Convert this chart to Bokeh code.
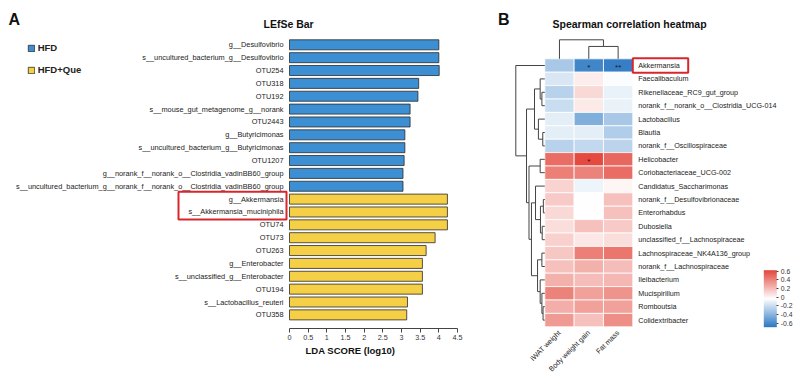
import numpy as np
from bokeh.plotting import figure
from bokeh.models import (ColumnDataSource, Range1d, FixedTicker, NumeralTickFormatter,
                          Legend, LegendItem, Label, LinearColorMapper, ColorBar, AllLabels)
from bokeh.layouts import row
from bokeh.core.properties import value
from bokeh.embed import file_html
from bokeh.resources import INLINE

FONT = "Liberation Sans"

# ---------------- Panel A data (LEfSe) ----------------
lefse_features = [
    "g__Desulfovibrio",
    "s__uncultured_bacterium_g__Desulfovibrio",
    "OTU254",
    "OTU318",
    "OTU192",
    "s__mouse_gut_metagenome_g__norank",
    "OTU2443",
    "g__Butyricimonas",
    "s__uncultured_bacterium_g__Butyricimonas",
    "OTU1207",
    "g__norank_f__norank_o__Clostridia_vadinBB60_group",
    "s__uncultured_bacterium_g__norank_f__norank_o__Clostridia_vadinBB60_group",
    "g__Akkermansia",
    "s__Akkermansia_muciniphila",
    "OTU74",
    "OTU73",
    "OTU263",
    "g__Enterobacter",
    "s__unclassified_g__Enterobacter",
    "OTU194",
    "s__Lactobacillus_reuteri",
    "OTU358",
]
lefse_lda = [4.00, 4.00, 4.01, 3.46, 3.44, 3.23, 3.23, 3.09, 3.09, 3.07, 3.04, 3.04,
             4.23, 4.23, 4.23, 3.90, 3.66, 3.56, 3.56, 3.56, 3.16, 3.14]
lefse_group = ["HFD", "HFD", "HFD", "HFD", "HFD", "HFD", "HFD", "HFD", "HFD", "HFD", "HFD", "HFD",
               "HFD+Que", "HFD+Que", "HFD+Que", "HFD+Que", "HFD+Que", "HFD+Que", "HFD+Que",
               "HFD+Que", "HFD+Que", "HFD+Que"]
group_names = ["HFD", "HFD+Que"]
group_colors = ["#3b8fd2", "#f5cf45"]
lda_ticks = [0, 0.5, 1, 1.5, 2, 2.5, 3, 3.5, 4, 4.5]
lefse_highlight = ["g__Akkermansia", "s__Akkermansia_muciniphila"]

# ---------------- Panel B data (Spearman heatmap) ----------------
hm_rows = [
    "Akkermansia", "Faecalibaculum", "Rikenellaceae_RC9_gut_group",
    "norank_f__norank_o__Clostridia_UCG-014", "Lactobacillus", "Blautia",
    "norank_f__Oscillospiraceae", "Helicobacter", "Coriobacteriaceae_UCG-002",
    "Candidatus_Saccharimonas", "norank_f__Desulfovibrionaceae", "Enterorhabdus",
    "Dubosiella", "unclassified_f__Lachnospiraceae", "Lachnospiraceae_NK4A136_group",
    "norank_f__Lachnospiraceae", "Ileibacterium", "Mucispirillum", "Romboutsia",
    "Colidextribacter",
]
hm_cols = ["iWAT weight", "Body weight gain", "Fat mass"]
rho_iwat = [-0.30, -0.15, -0.25, -0.20, -0.12, -0.12, -0.25, 0.48, 0.42, 0.12,
            0.15, 0.10, 0.08, 0.13, 0.16, 0.18, 0.24, 0.40, 0.25, 0.32]
rho_bwg = [-0.62, 0.03, 0.10, 0.04, -0.42, -0.12, -0.22, 0.60, 0.40, -0.09,
           -0.03, -0.03, 0.18, 0.05, 0.42, 0.24, 0.20, 0.30, 0.30, 0.18]
rho_fat = [-0.65, -0.05, -0.10, -0.10, -0.30, -0.28, -0.24, 0.50, 0.48, 0.00,
           0.18, 0.18, 0.15, 0.08, 0.45, 0.20, 0.22, 0.34, 0.30, 0.36]
sig_iwat = ["", "", "", "", "", "", "", "", "", "", "", "", "", "", "", "", "", "", "", ""]
sig_bwg = ["*", "", "", "", "", "", "", "*", "", "", "", "", "", "", "", "", "", "", "", ""]
sig_fat = ["**", "", "", "", "", "", "", "", "", "", "", "", "", "", "", "", "", "", "", ""]
# hierarchical clustering merges: (child_a, child_b, height); ids >= n refer to earlier merges
row_merges = [
    (2, 3, 0.10), (1, 20, 0.16), (5, 6, 0.07), (4, 22, 0.22), (21, 23, 0.355),
    (7, 8, 0.16), (10, 11, 0.05), (12, 13, 0.09), (26, 27, 0.15), (9, 28, 0.32),
    (14, 15, 0.10), (18, 19, 0.06), (17, 31, 0.10), (16, 32, 0.16), (30, 33, 0.25),
    (29, 34, 0.46), (25, 35, 0.545), (24, 36, 0.63), (0, 37, 1.00),
]
col_merges = [(1, 2, 0.65), (0, 3, 1.00)]
cbar_ticks = [-0.6, -0.4, -0.2, 0, 0.2, 0.4, 0.6]
cmap_low, cmap_high = -0.69, 0.62
hm_highlight = "Akkermansia"

# ---------------- geometry (page pixels; page origin is the canvas origin) ----------------
H = 378
A_W = 497
B_W = 302
A_ZERO_PX, A_UNIT_PX = 289.0, 168.0 / 4.5
A_ROW0_PX, A_ROW_PX = 44.3, 12.86
A_AXIS_PX = 328.0


def ax(px):
    return (px - A_ZERO_PX) / A_UNIT_PX


def ay(py):
    return (py - A_ROW0_PX) / A_ROW_PX


B_LEFT = A_W
B_COL_PX = 29.33
B_COL0_PX = 544.3 + B_COL_PX / 2
B_ROW0_PX, B_ROW_PX = 65.0, 13.4


def bx(px):
    return (px - B_COL0_PX) / B_COL_PX


def by(py):
    return (py - B_ROW0_PX) / B_ROW_PX


# ================= Panel A =================
pa = figure(width=A_W, height=H, output_backend="svg", toolbar_location=None,
            x_range=Range1d(ax(0), ax(A_W)), y_range=Range1d(ay(H), ay(0)),
            y_axis_location=None, min_border=0)
pa.outline_line_color = None
pa.grid.visible = False

legend_items = []
for g, c in zip(group_names, group_colors):
    idx = [i for i, gg in enumerate(lefse_group) if gg == g]
    src = ColumnDataSource(dict(y=idx, v=[lefse_lda[i] for i in idx]))
    r = pa.hbar(y="y", left=0, right="v", height=0.78, source=src,
                fill_color=c, line_color="#2b2b2b", line_width=0.8)
    legend_items.append(LegendItem(label=g, renderers=[r]))

pa.text(x=ax(283), y=list(range(len(lefse_features))), text=lefse_features,
        text_align="right", text_baseline="middle", text_font=value(FONT),
        text_font_size="7.35px", text_color="#222222")

hi = [lefse_features.index(f) for f in lefse_highlight]
pa.quad(left=[ax(178)], right=[ax(286)], top=[min(hi) - 0.58], bottom=[max(hi) + 0.58],
        fill_color=None, line_color="#d7262c", line_width=2)

xa = pa.xaxis[0]
xa.fixed_location = ay(A_AXIS_PX)
xa.bounds = (0, 4.5)
xa.ticker = FixedTicker(ticks=lda_ticks)
xa.formatter = NumeralTickFormatter(format="0[.]0")
xa.major_tick_out = 4
xa.major_tick_in = 0
xa.minor_tick_line_color = None
xa.axis_line_color = "#444444"
xa.major_tick_line_color = "#444444"
xa.major_label_text_font_size = "7.2px"
xa.major_label_text_font = FONT
xa.major_label_text_color = "#333333"
xa.major_label_standoff = 2

pa.add_layout(Label(x=ax(305), y=ay(350), text="LDA SCORE (log10)", text_font_size="9.5px",
                    text_font_style="bold", text_font=FONT, text_baseline="middle",
                    text_color="#111111"))

legend = Legend(items=legend_items,
                location=(26.7, H - 75.3), orientation="vertical",
                glyph_width=8, glyph_height=8, label_height=8, label_width=10,
                spacing=11, padding=0, margin=0, label_standoff=3,
                border_line_color=None, background_fill_alpha=0,
                label_text_font_size="9.5px", label_text_font_style="bold",
                label_text_font=FONT, label_text_color="#222222")
pa.add_layout(legend)

pa.add_layout(Label(x=ax(8), y=ay(18.5), text="A", text_font_size="16px",
                    text_font_style="bold", text_font=FONT, text_baseline="alphabetic",
                    text_color="#111111"))
pa.add_layout(Label(x=ax(263), y=ay(23), text="LEfSe Bar", text_font_size="10.5px",
                    text_font_style="bold", text_font=FONT, text_baseline="middle",
                    text_color="#111111"))

# ================= Panel B =================
pb = figure(width=B_W, height=H, output_backend="svg", toolbar_location=None,
            x_range=Range1d(bx(B_LEFT), bx(B_LEFT + B_W)), y_range=Range1d(by(H), by(0)),
            x_axis_location=None, y_axis_location=None, min_border=0)
pb.outline_line_color = None
pb.grid.visible = False


def lerp_palette(stops, n=256):
    rgb = [tuple(int(s[i:i + 2], 16) for i in (1, 3, 5)) for s in stops]
    out = []
    for t in np.linspace(0, 1, n):
        seg = min(int(t * (len(rgb) - 1)), len(rgb) - 2)
        f = t * (len(rgb) - 1) - seg
        c = [round(rgb[seg][k] + (rgb[seg + 1][k] - rgb[seg][k]) * f) for k in range(3)]
        out.append("#%02x%02x%02x" % tuple(c))
    return out


palette = lerp_palette(["#2a78c3", "#ffffff", "#e3463a"])
mapper = LinearColorMapper(palette=palette, low=cmap_low, high=cmap_high)

cols_vals = [rho_iwat, rho_bwg, rho_fat]
cols_sig = [sig_iwat, sig_bwg, sig_fat]
cx, cy, cv, sx, sy, st = [], [], [], [], [], []
for j, (vals, sigs) in enumerate(zip(cols_vals, cols_sig)):
    for i, (v, s) in enumerate(zip(vals, sigs)):
        cx.append(j)
        cy.append(i)
        cv.append(v)
        if s:
            sx.append(j)
            sy.append(i)
            st.append(s)
hm_src = ColumnDataSource(dict(x=cx, y=cy, v=cv))
pb.rect(x="x", y="y", width=1, height=1, source=hm_src,
        fill_color={"field": "v", "transform": mapper}, line_color="white", line_width=0.8)
pb.text(x=sx, y=sy, text=st, text_align="center", text_baseline="middle", y_offset=2,
        text_font=value(FONT), text_font_size="8px", text_color="#1a1a1a")


def dendro_segments(merges, n):
    pos = {i: float(i) for i in range(n)}
    hgt = {i: 0.0 for i in range(n)}
    segs = []
    for k, (a, b, h) in enumerate(merges):
        segs.append((pos[a], h, pos[b], h))
        segs.append((pos[a], hgt[a], pos[a], h))
        segs.append((pos[b], hgt[b], pos[b], h))
        pos[n + k] = (pos[a] + pos[b]) / 2
        hgt[n + k] = h
    return segs


ROW_TREE = 29.0 / B_COL_PX   # data units for unit height
COL_TREE = 19.0 / B_ROW_PX
left_edge = -0.5
top_edge = -0.5
rs = dendro_segments(row_merges, len(hm_rows))
pb.segment(x0=[left_edge - s[1] * ROW_TREE for s in rs], y0=[s[0] for s in rs],
           x1=[left_edge - s[3] * ROW_TREE for s in rs], y1=[s[2] for s in rs],
           line_color="#444444", line_width=1)
cs = dendro_segments(col_merges, len(hm_cols))
pb.segment(x0=[s[0] for s in cs], y0=[top_edge - s[1] * COL_TREE for s in cs],
           x1=[s[2] for s in cs], y1=[top_edge - s[3] * COL_TREE for s in cs],
           line_color="#444444", line_width=1)

pb.text(x=bx(637.7), y=list(range(len(hm_rows))), text=hm_rows, text_align="left",
        text_baseline="middle", text_font=value(FONT), text_font_size="7.2px",
        text_color="#222222")
pb.text(x=[j for j in range(len(hm_cols))], y=by(331), text=hm_cols, angle=np.pi / 4,
        text_align="right", text_baseline="middle", text_font=value(FONT),
        text_font_size="7.2px", text_color="#222222")

ri = hm_rows.index(hm_highlight)
pb.quad(left=[len(hm_cols) - 0.5], right=[bx(687.7)], top=[ri - 0.55], bottom=[ri + 0.55],
        fill_color=None, line_color="#d7262c", line_width=2)

pb.add_layout(Label(x=bx(497.5), y=by(18.5), text="B", text_font_size="16px",
                    text_font_style="bold", text_font=FONT, text_baseline="alphabetic",
                    text_color="#111111"))
pb.add_layout(Label(x=bx(552), y=by(23), text="Spearman correlation heatmap",
                    text_font_size="10.5px", text_font_style="bold", text_font=FONT,
                    text_baseline="middle", text_color="#111111"))

cb = ColorBar(color_mapper=mapper, location=(763.3 - B_LEFT, H - 326.7),
              orientation="vertical", width=13, height=57,
              ticker=FixedTicker(ticks=cbar_ticks), formatter=NumeralTickFormatter(format="0[.]0"),
              major_label_policy=AllLabels(),
              major_label_text_font_size="6.8px", major_label_text_font=FONT,
              major_label_text_color="#333333", major_tick_line_color="#444444",
              major_tick_in=0, major_tick_out=2, minor_tick_line_color=None,
              label_standoff=2, padding=0, margin=0, bar_line_color=None,
              border_line_color=None, background_fill_alpha=0)
pb.add_layout(cb)

layout = row(pa, pb)
open("out.html", "w").write(file_html(layout, INLINE))
